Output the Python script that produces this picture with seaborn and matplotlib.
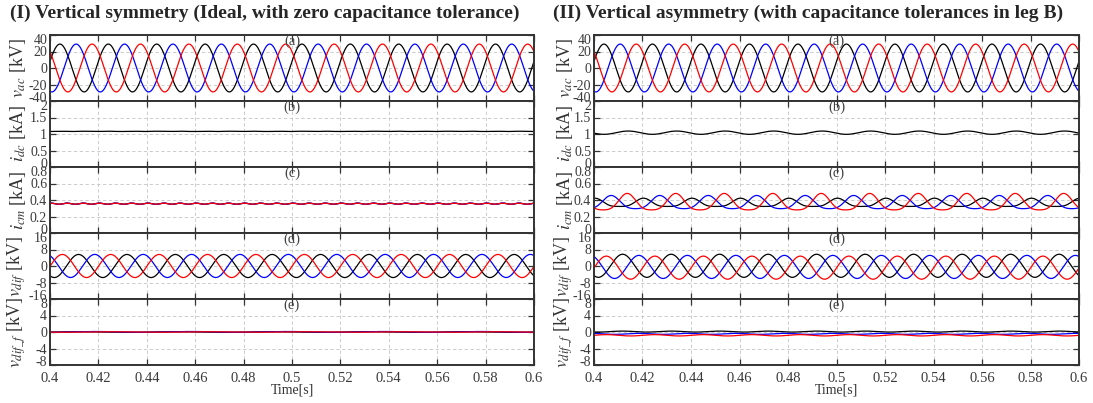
import numpy as np
import pandas as pd
import matplotlib
matplotlib.use("Agg")
import matplotlib.pyplot as plt
import matplotlib.transforms as mtransforms
import seaborn as sns

# ---------------- signal parameters ----------------
t_start, t_end = 0.4, 0.6
f_grid = 50.0                      # Hz
phase_names = ["A", "B", "C"]
phase_colors = ["black", "blue", "red"]

# (a) AC voltages: amplitude [kV], instants of positive peak [s]
vac_amp = [29.0, 29.0, 29.0]
vac_peak = [0.4041, 0.4108, 0.4174]

# (b) DC current [kA]: mean, ripple amplitude, ripple peak instant  (case I, case II)
idc_mean = [1.08, 1.04]
idc_ripple = [0.004, 0.05]
idc_peak = [0.4141, 0.4141]

# (c) circulating currents [kA]
icm_mean_I = [0.355, 0.355, 0.355]
icm_amp_I = [0.006, 0.008, 0.006]
icm_mean_II = [0.36, 0.36, 0.36]
icm_amp_II = [0.05, 0.08, 0.10]
icm_h2_II = [0.012, 0.015, 0.02]
icm_peak = [0.4004, 0.4071, 0.4137]

# (d) differential voltages [kV]
vdif_amp = [5.6, 5.6, 5.6]
vdif_peak = [0.4118, 0.4185, 0.4251]

# (e) filtered differential voltages [kV]: offset and ripple
vdf_off_I = [0.0, 0.02, 0.0]
vdf_rip_I = [0.08, 0.10, 0.06]
vdf_off_II = [0.1, -0.45, -0.8]
vdf_rip_II = [0.12, 0.12, 0.16]

# axis ranges and ticks
x_ticks = [0.4, 0.42, 0.44, 0.46, 0.48, 0.5, 0.52, 0.54, 0.56, 0.58, 0.6]
x_tick_labels = ["0.4", "0.42", "0.44", "0.46", "0.48", "0.5", "0.52", "0.54", "0.56", "0.58", "0.6"]
y_ticks = [[-40, -20, 0, 20, 40], [0, 0.5, 1, 1.5, 2], [0, 0.2, 0.4, 0.6, 0.8],
           [-16, -8, 0, 8, 16], [-8, -4, 0, 4, 8]]
y_tick_labels = [["-40", "-20", "0", "20", "40"], ["0", "0.5", "1", "1.5", "2"],
                 ["0", "0.2", "0.4", "0.6", "0.8"], ["-16", "-8", "0", "8", "16"],
                 ["-8", "-4", "0", "4", "8"]]
y_labels = [r"$v_{ac}$ [kV]", r"$i_{dc}$ [kA]", r"$i_{cm}$ [kA]",
            r"$v_{dif}$ [kV]", r"$v_{dif\_f}$ [kV]"]
panel_tags = ["(a)", "(b)", "(c)", "(d)", "(e)"]
titles = ["(I) Vertical symmetry (Ideal, with zero capacitance tolerance)",
          "(II) Vertical asymmetry (with capacitance tolerances in leg B)"]

t = np.linspace(t_start, t_end, 2001)
w = 2 * np.pi * f_grid


def three_phase(amp, peak, mean=(0, 0, 0), h2=(0, 0, 0)):
    frames = []
    for k, name in enumerate(phase_names):
        y = mean[k] + amp[k] * np.cos(w * (t - peak[k])) + h2[k] * np.cos(2 * w * (t - peak[k]))
        frames.append(pd.DataFrame({"t": t, "value": y, "phase": name}))
    return pd.concat(frames, ignore_index=True)


def ripple_phase(offset, ripple, peak, freq_mult):
    frames = []
    for k, name in enumerate(phase_names):
        y = offset[k] + ripple[k] * np.cos(freq_mult * w * (t - peak[k]))
        frames.append(pd.DataFrame({"t": t, "value": y, "phase": name}))
    return pd.concat(frames, ignore_index=True)


def dc_signal(mean, ripple, peak, freq_mult):
    y = mean + ripple * np.cos(freq_mult * w * (t - peak))
    return pd.DataFrame({"t": t, "value": y, "phase": "A"})


cases = []
# case I: symmetric legs
cases.append([
    three_phase(vac_amp, vac_peak),
    dc_signal(idc_mean[0], idc_ripple[0], idc_peak[0], 2),
    ripple_phase(icm_mean_I, icm_amp_I, icm_peak, 3),
    three_phase(vdif_amp, vdif_peak, mean=vdf_off_I),
    ripple_phase(vdf_off_I, vdf_rip_I, vdif_peak, 0.5),
])
# case II: capacitance tolerance in leg B
cases.append([
    three_phase(vac_amp, vac_peak),
    dc_signal(idc_mean[1], idc_ripple[1], idc_peak[1], 1),
    three_phase(icm_amp_II, icm_peak, mean=icm_mean_II, h2=icm_h2_II),
    three_phase(vdif_amp, vdif_peak, mean=vdf_off_II),
    ripple_phase(vdf_off_II, vdf_rip_II, vdif_peak, 1),
])

# ---------------- styling ----------------
sns.set_theme(style="ticks")
plt.rcParams["font.family"] = ["Liberation Serif", "DejaVu Serif"]
plt.rcParams["mathtext.fontset"] = "stix"
plt.rcParams["axes.unicode_minus"] = False

W, H = 1093, 403
fig = plt.figure(figsize=(W / 100, H / 100), dpi=100)
palette = dict(zip(phase_names, phase_colors))
dark = "#333333"

col_left = [50, 594]
col_width = [484, 485]
label_x = [-0.045, -0.039]
top_px, panel_h = 35, 66

# nudge the end tick labels of each stacked panel inward so neighbours don't collide
shift_up = mtransforms.ScaledTranslation(0, 0.045, fig.dpi_scale_trans)
shift_down = mtransforms.ScaledTranslation(0, -0.045, fig.dpi_scale_trans)

for c in range(2):
    for k in range(5):
        bottom_px = top_px + panel_h * (k + 1)
        ax = fig.add_axes([col_left[c] / W, 1 - bottom_px / H, col_width[c] / W, panel_h / H])
        data = cases[c][k]
        sns.lineplot(data=data, x="t", y="value", hue="phase", palette=palette,
                     hue_order=phase_names if data["phase"].nunique() > 1 else ["A"],
                     estimator=None, sort=False, lw=0.9, legend=False, ax=ax)
        ax.set_xlim(t_start, t_end)
        ax.set_ylim(y_ticks[k][0], y_ticks[k][-1])
        ax.set_xticks(x_ticks)
        ax.set_yticks(y_ticks[k])
        ax.set_yticklabels(y_tick_labels[k])
        if k == 4:
            ax.set_xticklabels(x_tick_labels)
            ax.set_xlabel("Time[s]", fontsize=10, labelpad=-1, color=dark)
        else:
            ax.set_xticklabels([])
            ax.set_xlabel("")
        ax.set_ylabel(y_labels[k], fontsize=13, color=dark)
        ax.yaxis.set_label_coords(label_x[c], 0.5)
        ax.grid(True, ls=(0, (4, 3)), color="#c4c4c4", lw=0.6)
        ax.tick_params(direction="in", top=True, right=True, length=4, width=0.9,
                       color=dark, labelsize=10.5, labelcolor="#3a3a3a", pad=2)
        ax.tick_params(axis="y", labelsize=10)
        ax.tick_params(axis="x", pad=5)
        for s in ax.spines.values():
            s.set_color(dark)
            s.set_linewidth(1.4)
        yt = ax.yaxis.get_major_ticks()
        yt[0].label1.set_transform(yt[0].label1.get_transform() + shift_up)
        yt[-1].label1.set_transform(yt[-1].label1.get_transform() + shift_down)
        ax.text(0.5, 1.0, panel_tags[k], transform=ax.transAxes, ha="center", va="top",
                fontsize=10.5, color="#444444")

fig.text(10 / W, 1 - 13 / H, titles[0], fontsize=14, fontweight="bold", va="center", ha="left")
fig.text(553 / W, 1 - 13 / H, titles[1], fontsize=14, fontweight="bold", va="center", ha="left")

fig.savefig("out.png", dpi=100)
